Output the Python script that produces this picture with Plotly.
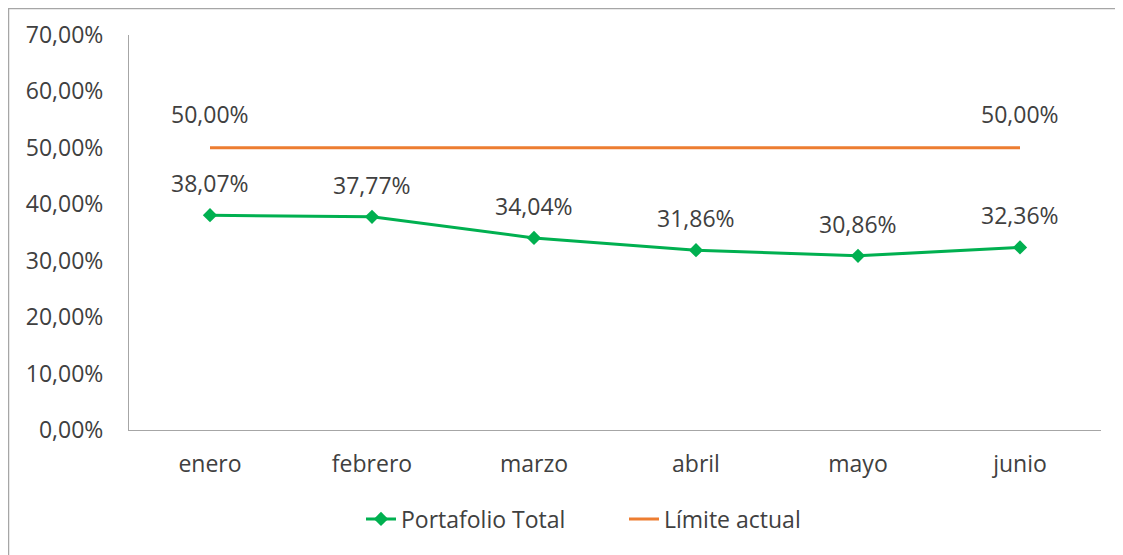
import plotly.graph_objects as go

months = ["enero", "febrero", "marzo", "abril", "mayo", "junio"]
portafolio = [38.07, 37.77, 34.04, 31.86, 30.86, 32.36]
limite = [50.00, 50.00, 50.00, 50.00, 50.00, 50.00]
yticks = [0, 10, 20, 30, 40, 50, 60, 70]

def fmt(v):
    return f"{v:.2f}%".replace(".", ",")

GREEN = "#00B050"
ORANGE = "#ED7D31"
TXT = "#404040"
FONT = "Open Sans"
FS = 23

# page body offset of 8px is compensated
OFF = 8
W, H = 1123 - OFF, 555 - OFF
L, T = 129 - OFF, 35 - OFF
plot_right, plot_bottom = 1101 - OFF, 430 - OFF
R, B = W - plot_right, H - plot_bottom
pw, ph = W - L - R, H - T - B

fig = go.Figure()
fig.add_trace(go.Scatter(
    x=months, y=portafolio, name="Portafolio Total", mode="lines+markers",
    line=dict(color=GREEN, width=3),
    marker=dict(symbol="diamond", size=11, color=GREEN),
))
fig.add_trace(go.Scatter(
    x=months, y=limite, name="Límite actual", mode="lines",
    line=dict(color=ORANGE, width=3),
))

annotations = []
for m, v in zip(months, portafolio):
    annotations.append(dict(x=m, y=v, text=fmt(v), showarrow=False, yshift=32,
                            font=dict(size=FS, color=TXT, family=FONT)))
for i in (0, len(months) - 1):
    annotations.append(dict(x=months[i], y=limite[i], text=fmt(limite[i]), showarrow=False,
                            yshift=34, font=dict(size=FS, color=TXT, family=FONT)))

fig.update_layout(
    width=W, height=H,
    margin=dict(l=L, r=R, t=T, b=B, autoexpand=False),
    paper_bgcolor="white", plot_bgcolor="white",
    font=dict(family=FONT, size=FS, color=TXT),
    separators=",.",
    showlegend=True,
    legend=dict(orientation="h", x=0.5 + 9 / pw, xanchor="center", y=(430 - 519) / ph, yanchor="middle",
                font=dict(size=FS, color=TXT, family=FONT), tracegroupgap=0,
                entrywidth=218, entrywidthmode="pixels"),
    annotations=annotations,
    shapes=[dict(type="rect", xref="paper", yref="paper",
                 x0=(0.5 - L) / pw, x1=(W + 20 - L) / pw,
                 y0=(plot_bottom - H - 20) / ph, y1=(plot_bottom - 0.5) / ph,
                 line=dict(color="#a6a6a6", width=1.5), fillcolor="rgba(0,0,0,0)", layer="below")],
)
fig.update_xaxes(range=[-0.5, len(months) - 0.5], showgrid=False, showline=True,
                 linecolor="#a6a6a6", linewidth=1,
                 ticks="", ticklabelstandoff=13, tickfont=dict(size=FS, color=TXT, family=FONT))
fig.update_yaxes(range=[0, 70], tickvals=yticks, ticktext=[fmt(v) for v in yticks],
                 showgrid=False, showline=True, linecolor="#a6a6a6", linewidth=1,
                 zeroline=False, ticks="", ticklabelstandoff=20,
                 tickfont=dict(size=FS, color=TXT, family=FONT))
fig.write_html("out.html")
